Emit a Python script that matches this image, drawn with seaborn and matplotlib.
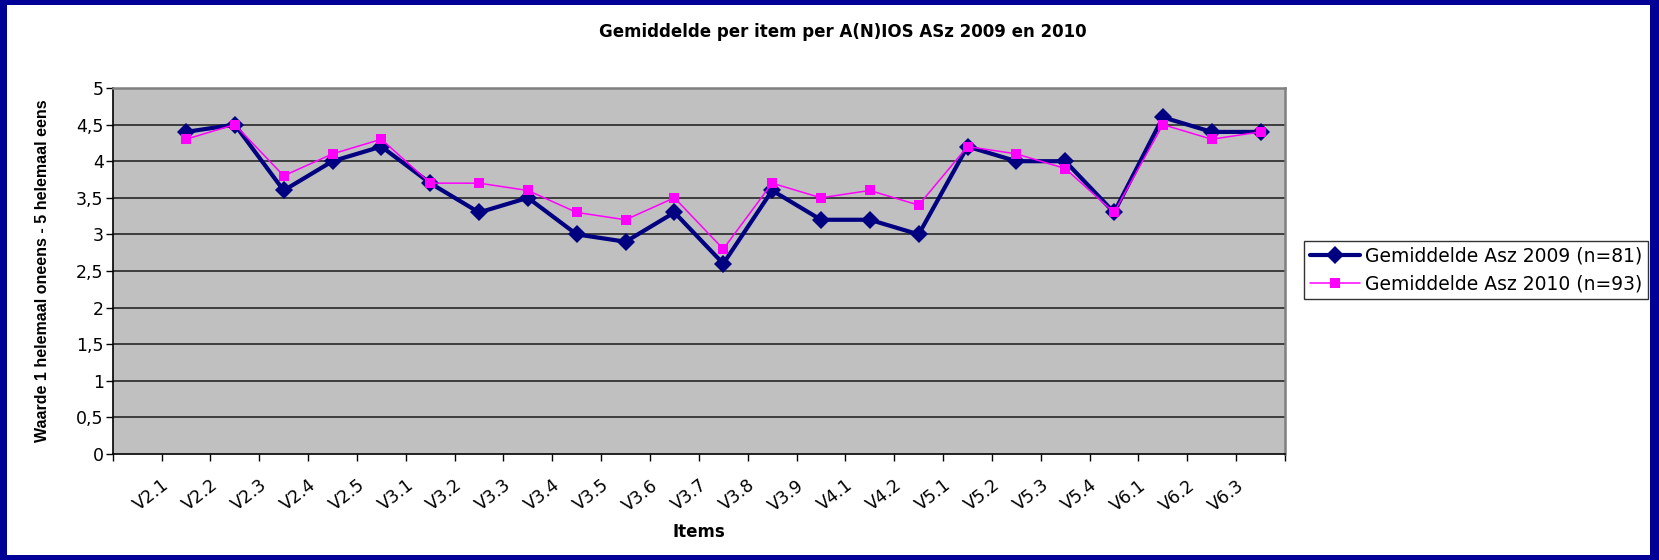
import numpy as np
import pandas as pd
import matplotlib
matplotlib.use("Agg")
import matplotlib.pyplot as plt
from matplotlib.patches import Rectangle
from matplotlib.transforms import ScaledTranslation
from matplotlib.ticker import FuncFormatter
import seaborn as sns

# gegevens
items = ["V2.1", "V2.2", "V2.3", "V2.4", "V2.5", "V3.1", "V3.2", "V3.3", "V3.4",
         "V3.5", "V3.6", "V3.7", "V3.8", "V3.9", "V4.1", "V4.2", "V5.1", "V5.2",
         "V5.3", "V5.4", "V6.1", "V6.2", "V6.3"]
gem_2009 = [4.4, 4.5, 3.6, 4.0, 4.2, 3.7, 3.3, 3.5, 3.0, 2.9, 3.3, 2.6, 3.6, 3.2,
            3.2, 3.0, 4.2, 4.0, 4.0, 3.3, 4.6, 4.4, 4.4]
gem_2010 = [4.3, 4.5, 3.8, 4.1, 4.3, 3.7, 3.7, 3.6, 3.3, 3.2, 3.5, 2.8, 3.7, 3.5,
            3.6, 3.4, 4.2, 4.1, 3.9, 3.3, 4.5, 4.3, 4.4]
label_2009 = "Gemiddelde Asz 2009 (n=81)"
label_2010 = "Gemiddelde Asz 2010 (n=93)"

sns.set_style("white")
plt.rcParams['font.family'] = ['DejaVu Sans']
for key in ["text.color", "axes.labelcolor", "xtick.color", "ytick.color"]:
    plt.rcParams[key] = "black"

# in de Excel-grafiek staan de punten een categorie naar rechts (eerste vak leeg)
df = pd.DataFrame({"pos": np.arange(len(items)) + 1, "y2009": gem_2009, "y2010": gem_2010})

fig = plt.figure(figsize=(16.59, 5.6), dpi=100)
ax = fig.add_axes([112.7 / 1659, 106 / 560, (1285 - 112.7) / 1659, 366 / 560])
ax.set_facecolor("#C0C0C0")

sns.lineplot(data=df, x="pos", y="y2009", ax=ax, color="#000080", linewidth=3,
             marker="D", markersize=9, markeredgewidth=0, label=label_2009)
sns.lineplot(data=df, x="pos", y="y2010", ax=ax, color="#FF00FF", linewidth=1.1,
             marker="s", markersize=7, markeredgewidth=0, label=label_2010)

# assen
ax.set_ylim(0, 5)
ax.set_yticks(np.arange(0, 5.01, 0.5))
ax.yaxis.set_major_formatter(FuncFormatter(lambda v, p: f"{v:g}".replace(".", ",")))
ax.set_xlim(-0.5, len(items) + 0.5)
ax.set_xticks(np.arange(-0.5, len(items) + 1))
ax.set_xticklabels([""] + items + [""], rotation=38, ha="right", va="top",
                   rotation_mode="anchor", fontsize=12.5)
for lbl in ax.get_xticklabels():
    lbl.set_transform(lbl.get_transform() + ScaledTranslation(0.11, 0, fig.dpi_scale_trans))
ax.tick_params(axis="x", length=5, width=1, color="black", pad=11, bottom=True)
ax.tick_params(axis="y", length=5, width=1, color="black", pad=1.5, labelsize=12.5, left=True)

for yv in np.arange(0.5, 5, 0.5):
    ax.axhline(yv, color="#333333", linewidth=1.3, zorder=0.5)

for side in ["left", "bottom"]:
    ax.spines[side].set_color("black")
    ax.spines[side].set_linewidth(1.2)
for side in ["top", "right"]:
    ax.spines[side].set_color("#808080")
    ax.spines[side].set_linewidth(1.8)

ax.set_xlabel("Items", fontsize=12, fontweight="bold", va="center")
ax.xaxis.set_label_coords(0.5, -0.213)
ax.set_ylabel("Waarde 1 helemaal oneens - 5 helemaal eens", fontsize=11.5,
              fontweight="bold", va="center", family=["Liberation Sans", "DejaVu Sans"])
ax.yaxis.set_label_coords(-0.0603, 0.5)

fig.text(843 / 1659, 1 - 32 / 560, "Gemiddelde per item per A(N)IOS ASz 2009 en 2010",
         ha="center", va="center", fontsize=12, fontweight="bold")

leg = ax.legend(loc="upper left", bbox_to_anchor=(1304 / 1659, 1 - 241 / 560),
                bbox_transform=fig.transFigure, fontsize=13.5, frameon=True,
                fancybox=False, borderaxespad=0, borderpad=0.3, labelspacing=0.45,
                handlelength=2.7, handletextpad=0.25)
leg.get_frame().set_edgecolor("black")
leg.get_frame().set_linewidth(1)

# donkerblauwe rand
W, H = 1659, 560
navy = "#000096"
for (x0, y0, w, h) in [(0, 0, 7, H), (W - 9, 0, 9, H), (0, H - 5, W, 5), (0, 0, W, 5)]:
    fig.patches.append(Rectangle((x0 / W, y0 / H), w / W, h / H, transform=fig.transFigure,
                                 facecolor=navy, edgecolor="none", zorder=10))

fig.savefig("out.png", dpi=100, facecolor="white")
